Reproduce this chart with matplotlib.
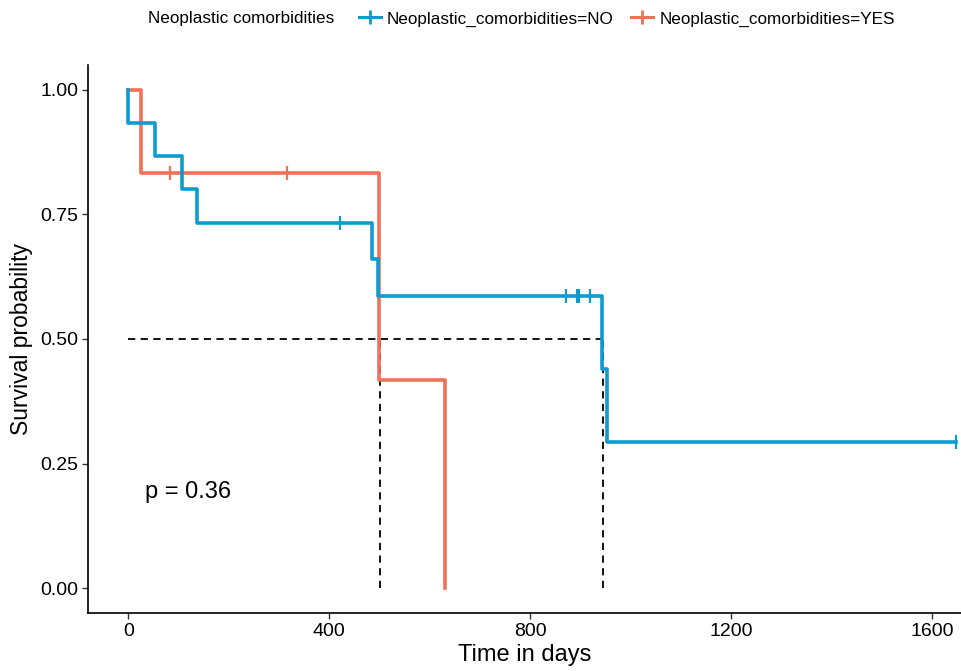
import matplotlib
matplotlib.use("Agg")
import matplotlib.pyplot as plt
from matplotlib.lines import Line2D

plt.rcParams["font.family"] = ["Liberation Sans", "DejaVu Sans"]

# Kaplan-Meier step data (time of step, survival after step)
NO_TIME = [0, 0, 54, 107, 137, 486, 498, 943, 953, 1648]
NO_SURV = [1.0, 0.933, 0.867, 0.800, 0.733, 0.660, 0.586, 0.440, 0.293, 0.293]
NO_CENSOR_T = [422, 872, 894, 898, 920, 1648]
NO_CENSOR_S = [0.733, 0.586, 0.586, 0.586, 0.586, 0.293]

YES_TIME = [0, 26, 500, 631]
YES_SURV = [1.0, 0.833, 0.417, 0.0]
YES_CENSOR_T = [84, 316]
YES_CENSOR_S = [0.833, 0.833]

MEDIANS = [501, 946]
P_TEXT = "p = 0.36"

BLUE = "#0E9BCF"
RED = "#F07058"

fig = plt.figure(figsize=(9.62, 6.71), dpi=100)
ax = fig.add_axes([0.0915, 0.0864, 0.9085, 0.817])

ax.step(NO_TIME, NO_SURV, where="post", color=BLUE, lw=2.6, zorder=4)
ax.plot(NO_CENSOR_T, NO_CENSOR_S, ls="none", marker="|", ms=10, mew=1.6, color=BLUE, zorder=5)
ax.step(YES_TIME, YES_SURV, where="post", color=RED, lw=2.6, zorder=3)
ax.plot(YES_CENSOR_T, YES_CENSOR_S, ls="none", marker="|", ms=10, mew=1.6, color=RED, zorder=5)

# median survival guides
ax.plot([0, max(MEDIANS)], [0.5, 0.5], ls=(0, (4, 3)), color="black", lw=1.3, zorder=2)
for m in MEDIANS:
    ax.plot([m, m], [0, 0.5], ls=(0, (4, 3)), color="black", lw=1.3, zorder=2)

ax.text(33, 0.193, P_TEXT, fontsize=17, va="center", ha="left")

ax.set_xlim(-80, 1660)
ax.set_ylim(-0.05, 1.05)
ax.set_xticks([0, 400, 800, 1200, 1600])
ax.set_yticks([0, 0.25, 0.5, 0.75, 1.0])
ax.set_yticklabels(["0.00", "0.25", "0.50", "0.75", "1.00"])
ax.tick_params(labelsize=14, length=4, width=1.0, color="#333333", pad=3)
ax.spines["top"].set_visible(False)
ax.spines["right"].set_visible(False)
for s in ("left", "bottom"):
    ax.spines[s].set_linewidth(1.2)
ax.set_xlabel("Time in days", fontsize=17, labelpad=3)
ax.set_ylabel("Survival probability", fontsize=16.5, labelpad=5)

handles = [
    Line2D([0], [0], color=BLUE, lw=2.2, marker="|", ms=10, mew=2),
    Line2D([0], [0], color=RED, lw=2.2, marker="|", ms=10, mew=2),
]
fig.text(148 / 962, 1 - 19 / 671, "Neoplastic comorbidities", fontsize=12.3, va="center")
fig.legend(handles, ["Neoplastic_comorbidities=NO", "Neoplastic_comorbidities=YES"],
           loc="center left", bbox_to_anchor=(352 / 962, 1 - 19 / 671), ncol=2,
           frameon=False, fontsize=12.3, handlelength=1.3, handletextpad=0.35,
           columnspacing=1.0, borderaxespad=0)

fig.savefig("out.png", dpi=100)
